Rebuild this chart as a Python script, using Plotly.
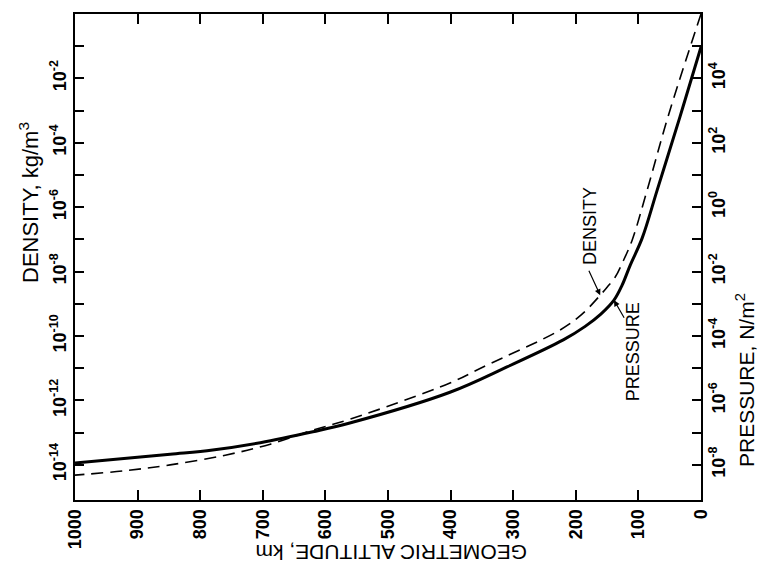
import plotly.graph_objects as go
import numpy as np

# ---- data ----
alt_pressure = [0, 25.6, 33.5, 70, 94, 113, 126, 139, 160, 185, 220, 310, 401, 561,
                620, 704, 780, 848, 1000]
pressure = [9.5e4, 2.1e3, 6.5e2, 3.4, 1.1e-1, 1.6e-2, 3.8e-3, 1.3e-3, 4.8e-4, 2.0e-4,
            7.6e-5, 1.1e-5, 1.8e-6, 2.0e-7, 1.07e-7, 4.9e-8, 2.9e-8, 2.14e-8, 1.15e-8]

alt_density = [0, 52.7, 86, 110, 125, 137, 150, 161, 190, 225, 348, 401, 561, 620,
               688, 760, 848, 920, 1000]
density = [1.0, 6.5e-4, 3.4e-6, 9.5e-8, 2.0e-8, 6.8e-9, 3.3e-9, 1.86e-9, 4.8e-10,
           1.55e-10, 1.1e-11, 3.5e-12, 2.6e-13, 1.2e-13, 4.4e-14, 2.0e-14, 1.0e-14,
           6.6e-15, 4.8e-15]

alt_ticks = [1000, 900, 800, 700, 600, 500, 400, 300, 200, 100, 0]
density_exps = list(range(0, -15, -1))
pressure_exps = list(range(6, -9, -1))

FONT = "Liberation Sans"

fig = go.Figure()
fig.add_trace(go.Scatter(x=alt_density, y=density, mode="lines", xaxis="x", yaxis="y",
                         line=dict(color="black", width=1.6, dash="12px,7px",
                                   shape="spline", smoothing=1.0),
                         showlegend=False))
fig.add_trace(go.Scatter(x=alt_pressure, y=pressure, mode="lines", xaxis="x", yaxis="y2",
                         line=dict(color="black", width=3, shape="spline", smoothing=1.0),
                         showlegend=False))

def dtext(e):
    return f"10<sup>{e}</sup>" if e % 2 == 0 else ""

TICKFONT = dict(size=18, weight="bold")

fig.update_layout(
    width=760, height=576,
    margin=dict(l=75, r=59, t=14, b=76),
    plot_bgcolor="white", paper_bgcolor="white",
    font=dict(family=FONT, color="black"),
    xaxis=dict(range=[1000, 0], tickmode="array", tickvals=alt_ticks,
               ticktext=[str(v) for v in alt_ticks], anchor="y",
               ticks="inside", ticklen=10, tickwidth=2, tickcolor="black",
               showline=True, linecolor="black", linewidth=2, mirror="ticks",
               showgrid=False, zeroline=False, tickangle=-90, tickfont=TICKFONT),
    yaxis=dict(type="log", range=[-15.09, 0], anchor="x",
               tickvals=[10.0 ** e for e in density_exps],
               ticktext=[dtext(e) for e in density_exps],
               ticks="inside", ticklen=9, tickwidth=2, tickcolor="black",
               showline=True, linecolor="black", linewidth=2,
               showgrid=False, zeroline=False, tickangle=-90, tickfont=TICKFONT),
    yaxis2=dict(type="log", range=[-9.09, 6], overlaying="y", side="right", anchor="x",
                tickvals=[10.0 ** e for e in pressure_exps],
                ticktext=[dtext(e) for e in pressure_exps],
                ticks="inside", ticklen=9, tickwidth=2, tickcolor="black",
                showline=True, linecolor="black", linewidth=2,
                showgrid=False, zeroline=False, tickangle=-90, tickfont=TICKFONT),
)

TITLEFONT = dict(size=21)
anns = [
    dict(text="GEOMETRIC ALTITUDE, km", xref="paper", yref="paper",
         x=(392 - 75) / 626, y=(500 - 553) / 486, xanchor="center", yanchor="middle",
         textangle=180, showarrow=False, font=TITLEFONT),
    dict(text="DENSITY, kg/m<sup>3</sup>", xref="paper", yref="paper",
         x=(29 - 75) / 626, y=(500 - 203) / 486, xanchor="center", yanchor="middle",
         textangle=-90, showarrow=False, font=dict(size=22)),
    dict(text="PRESSURE, N/m<sup>2</sup>", xref="paper", yref="paper",
         x=(745 - 75) / 626, y=(500 - 380) / 486, xanchor="center", yanchor="middle",
         textangle=-90, showarrow=False, font=TITLEFONT),
    dict(text="DENSITY", xref="x", yref="y", x=177, y=-6.58, textangle=-90,
         xanchor="center", yanchor="middle", showarrow=False, font=dict(size=18)),
    dict(text="PRESSURE", xref="x", yref="y2", x=108.6, y=-4.5, textangle=-90,
         xanchor="center", yanchor="middle", showarrow=False, font=dict(size=18)),
    dict(text="", xref="x", yref="y", x=161, y=np.log10(1.86e-9), ax=-12, ay=-26,
         showarrow=True, arrowhead=2, arrowsize=1, arrowwidth=1.2, arrowcolor="black"),
    dict(text="", xref="x", yref="y2", x=139, y=np.log10(1.3e-3), ax=11, ay=19,
         showarrow=True, arrowhead=2, arrowsize=1, arrowwidth=1.2, arrowcolor="black"),
]
fig.update_layout(annotations=anns)

fig.write_html("out.html")
